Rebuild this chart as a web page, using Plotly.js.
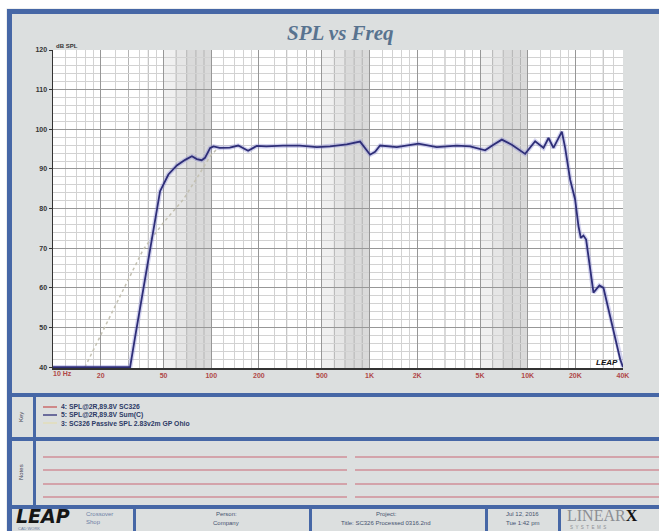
<!DOCTYPE html>
<html><head><meta charset="utf-8">
<script src="https://cdn.plot.ly/plotly-3.0.1.min.js"></script>
<style>html,body{margin:0;padding:0;background:#dcdfdf;} #chart{width:659px;height:531px;}</style>
</head><body><div id="chart"></div>
<script>
// ---- data ----
const mainFreq = [10, 30.7, 33, 38, 43, 47.5, 53.6, 60.6, 68.4, 75.5, 81.1, 87, 91.3, 98.5, 103.4, 113, 131, 148, 171, 194, 223, 284, 363, 465, 563, 719, 872, 938, 1009, 1085, 1167, 1488, 2038, 2660, 3560, 4325, 5380, 6070, 6860, 7930, 9630, 11140, 12580, 13530, 14540, 16430, 17240, 18540, 19930, 20920, 21660, 22490, 23390, 26030, 28390, 30100, 38380, 40000];
const mainSPL = [40, 40, 47.5, 62, 74.6, 84.4, 88.6, 90.9, 92.3, 93.2, 92.5, 92.2, 92.8, 95.3, 95.7, 95.3, 95.4, 95.9, 94.6, 95.8, 95.7, 95.9, 95.9, 95.5, 95.7, 96.2, 96.9, 95.2, 93.6, 94.3, 95.9, 95.5, 96.4, 95.5, 95.9, 95.7, 94.7, 96.1, 97.4, 96.1, 93.8, 97, 95.3, 97.8, 95.3, 99.4, 95.3, 87.3, 82.3, 75.6, 72.6, 73.2, 72.2, 58.8, 60.6, 60, 42, 40];
const passFreq = [15.9, 27.8, 37.2, 50, 66.6, 85, 98.5, 110];
const passSPL = [40, 59.6, 69.7, 76.5, 82.3, 89, 93.2, 95.3];

const xTickVals = [10, 20, 50, 100, 200, 500, 1000, 2000, 5000, 10000, 20000, 40000];
const xTickText = ['', '20', '50', '100', '200', '500', '1K', '2K', '5K', '10K', '20K', '40K'];
const yTickVals = [40, 50, 60, 70, 80, 90, 100, 110, 120];
const yTickText = ['40', '50', '60', '70', '80', '90', '100', '110', '120'];

const keyLabels = ['4: SPL@2R,89.8V SC326', '5: SPL@2R,89.8V Sum(C)', '3: SC326 Passive SPL 2.83v2m GP Ohio'];
const keyColors = ['#c85a5a', '#2e2e78', '#e4ddb4'];

const titleText = 'SPL vs Freq';
const footerPerson = ['Person:', 'Company'];
const footerProject = ['Project:', 'Title: SC326 Processed 0316.2nd'];
const footerDate = ['Jul 12, 2016', 'Tue 1:42 pm'];

// ---- layout helpers (pixel -> paper) ----
const L = 53, R = 623, T = 50, B = 368, W = R - L, H = B - T;
const px = X => (X - L) / W, py = Y => (B - Y) / H;

const decades = [10, 100, 1000, 10000];
const lightMult = [1.2, 1.4, 1.6, 1.8, 2.5, 3.5, 4.5];
const medMult = [3, 4, 6, 7, 8, 9];
const minorX = [];
decades.forEach(d => lightMult.forEach(m => { if (d * m < 40000) minorX.push(d * m); }));

const shapes = [];
// shaded bands before each decade line
[100, 1000, 10000].forEach(d => {
  const steps = [[0.5, 0.6, '#f0f0f0'], [0.6, 0.7, '#e6e6e6'], [0.7, 1.0, '#dadada']];
  steps.forEach(s => shapes.push({type: 'rect', xref: 'x', yref: 'y', x0: d * s[0], x1: d * s[1], y0: 39.8, y1: 120,
    fillcolor: s[2], line: {width: 0}, layer: 'below'}));
});
// medium grid lines
decades.forEach(d => medMult.forEach(m => {
  if (d * m < 40000) shapes.push({type: 'line', xref: 'x', yref: 'y', x0: d * m, x1: d * m, y0: 39.8, y1: 120,
    line: {color: '#b4b4b4', width: 1}, layer: 'below'});
}));

const blue = '#4667a6';
function prect(x0, y0, x1, y1, color) {
  shapes.push({type: 'rect', xref: 'paper', yref: 'paper', x0: px(x0), x1: px(x1), y0: py(y0), y1: py(y1),
    fillcolor: color, line: {width: 0}, layer: 'below'});
}
function pline(x0, y0, x1, y1, color, w) {
  shapes.push({type: 'line', xref: 'paper', yref: 'paper', x0: px(x0), x1: px(x1), y0: py(y0), y1: py(y1),
    line: {color: color, width: w}, layer: 'below'});
}
prect(0, 0, 659, 8.5, '#ffffff');
prect(0, 0, 6.5, 531, '#ffffff');
prect(7, 9, 659, 14, blue);
prect(7, 9, 12, 531, blue);
prect(7, 393, 659, 397, blue);
prect(7, 437, 659, 441, blue);
prect(7, 505, 659, 509, blue);
prect(33, 397, 36, 505, blue);
[133, 309, 485, 558].forEach(x => prect(x, 509, x + 3, 531, blue));
[457, 470, 484, 497].forEach(y => { pline(43, y, 347, y, '#d3a3aa', 2); pline(355, y, 659, y, '#d3a3aa', 2); });
// key samples
const keyRows = [407, 415, 423];
keyRows.forEach((y, i) => pline(43, y, 57, y, keyColors[i], 1.3));

const annotations = [];
function ann(X, Y, text, o) {
  o = o || {};
  annotations.push(Object.assign({xref: 'paper', yref: 'paper', x: px(X), y: py(Y), text: text, showarrow: false,
    xanchor: o.xa || 'left', yanchor: 'middle',
    font: {family: o.family || 'Liberation Sans', size: o.size || 6.5, color: o.color || '#2f3a5c',
      weight: o.weight || 'normal', style: o.style || 'normal'}}, o.extra || {}));
}
ann(340, 33, titleText, {xa: 'center', family: 'Liberation Serif', size: 21, color: '#58738f', weight: 'bold', style: 'italic'});
ann(54, 46.5, 'dB SPL', {size: 6, color: '#333', weight: 'bold'});
ann(51, 373.5, '10 Hz', {size: 7, color: '#b04848', weight: 'bold'});
ann(620, 362, 'LEAP', {xa: 'right', size: 8, color: '#111', weight: 'bold', style: 'italic'});
keyLabels.forEach((t, i) => ann(59, keyRows[i], t, {size: 6.8, weight: 'bold', color: '#2c3a66'}));
ann(21, 417, 'Key', {xa: 'center', size: 6, color: '#445', extra: {textangle: -90}});
ann(21, 472, 'Notes', {xa: 'center', size: 6, color: '#445', extra: {textangle: -90}});
ann(14, 515.5, 'LEAP', {size: 19, color: '#161616', weight: 'bold', style: 'italic', family: 'DejaVu Sans'});
ann(16, 528, 'CAD WORK', {size: 4, color: '#6a7aa0'});
ann(84, 513.5, 'Crossover', {size: 6, color: '#6f7fa6'});
ann(84, 522, 'Shop', {size: 6, color: '#6f7fa6'});
ann(226, 514, footerPerson[0], {xa: 'center', size: 6, color: '#45516e'});
ann(226, 523, footerPerson[1], {xa: 'center', size: 6, color: '#45516e'});
ann(386, 514, footerProject[0], {xa: 'center', size: 6, color: '#45516e'});
ann(386, 523, footerProject[1], {xa: 'center', size: 6, color: '#45516e'});
ann(522, 514, footerDate[0], {xa: 'center', size: 6, color: '#45516e'});
ann(522, 523, footerDate[1], {xa: 'center', size: 6, color: '#45516e'});
ann(565, 515, '<span style="color:#8c8e93">LINEAR</span><b>X</b>', {size: 16, color: '#111', family: 'Liberation Serif'});
ann(568, 527, 'S  Y  S  T  E  M  S', {size: 4.5, color: '#8c8e93'});

const traces = [
  {x: passFreq, y: passSPL, mode: 'lines', line: {color: '#c4c1b2', width: 1.5, dash: 'dot'}, hoverinfo: 'skip'},
  {x: mainFreq, y: mainSPL, mode: 'lines', line: {color: 'rgba(130,130,210,0.35)', width: 4.5}, hoverinfo: 'skip'},
  {x: mainFreq, y: mainSPL, mode: 'lines', line: {color: '#2e2e78', width: 1.8}, hoverinfo: 'skip'}
];

const layout = {
  width: 659, height: 531,
  margin: {l: L, r: 659 - R, t: T, b: 531 - B},
  paper_bgcolor: '#dcdfdf', plot_bgcolor: '#ffffff',
  showlegend: false,
  xaxis: {type: 'log', range: [1, Math.log10(40000)], tickvals: xTickVals, ticktext: xTickText,
    showgrid: true, gridcolor: '#979797', gridwidth: 1, zeroline: false,
    showline: true, linecolor: '#333', linewidth: 1.5, ticks: '',
    tickfont: {family: 'Liberation Sans', size: 7, color: '#b04848', weight: 'bold'},
    minor: {tickvals: minorX, showgrid: true, gridcolor: '#d2d2d2', gridwidth: 1, ticks: ''}},
  yaxis: {range: [39.8, 120], tickvals: yTickVals, ticktext: yTickText,
    showgrid: true, gridcolor: '#979797', gridwidth: 1, zeroline: false,
    showline: true, linecolor: '#333', linewidth: 1.5, ticks: 'outside', ticklen: 3, tickcolor: '#333',
    tickfont: {family: 'Liberation Sans', size: 7, color: '#333', weight: 'bold'},
    minor: {dtick: 2, showgrid: true, gridcolor: '#d2d2d2', gridwidth: 1, ticks: ''}},
  shapes: shapes,
  annotations: annotations
};
Plotly.newPlot('chart', traces, layout, {staticPlot: true, displayModeBar: false});
</script>
</body></html>
